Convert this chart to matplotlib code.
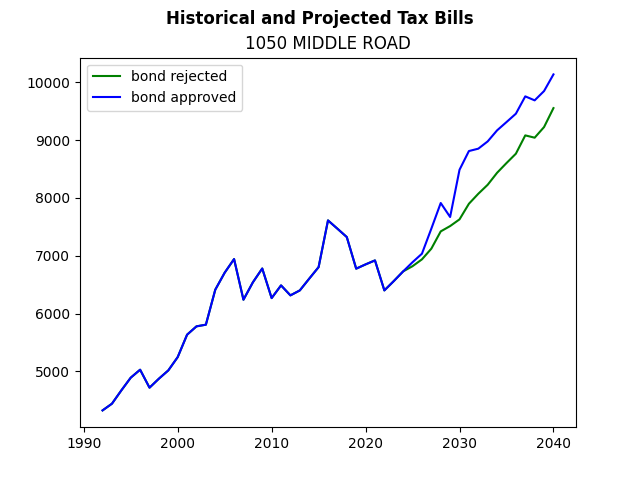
import matplotlib
matplotlib.use("Agg")
import matplotlib.pyplot as plt

years = list(range(1992, 2041))
historical = [4325, 4441, 4671, 4891, 5029, 4718, 4874, 5017, 5247, 5635,
              5779, 5808, 6413, 6707, 6943, 6240, 6540, 6780, 6268, 6488,
              6315, 6401, 6604, 6804, 7612, 7469, 7324, 6777, 6851, 6920,
              6401, 6562, 6730]
rejected_proj = [6820, 6938, 7123, 7422, 7514, 7630, 7900, 8073, 8229, 8436,
                 8604, 8766, 9083, 9043, 9227, 9555]
approved_proj = [6889, 7036, 7469, 7913, 7671, 8488, 8812, 8853, 8979, 9170,
                 9313, 9458, 9758, 9689, 9850, 10138]

bond_rejected = historical + rejected_proj
bond_approved = historical + approved_proj

fig, ax = plt.subplots(figsize=(6.4, 4.8), dpi=100)
ax.plot(years, bond_rejected, color="green", label="bond rejected")
ax.plot(years, bond_approved, color="blue", label="bond approved")
ax.set_title("1050 MIDDLE ROAD")
fig.suptitle("Historical and Projected Tax Bills", fontweight="bold")
ax.legend(loc="upper left")
fig.savefig("out.png")
